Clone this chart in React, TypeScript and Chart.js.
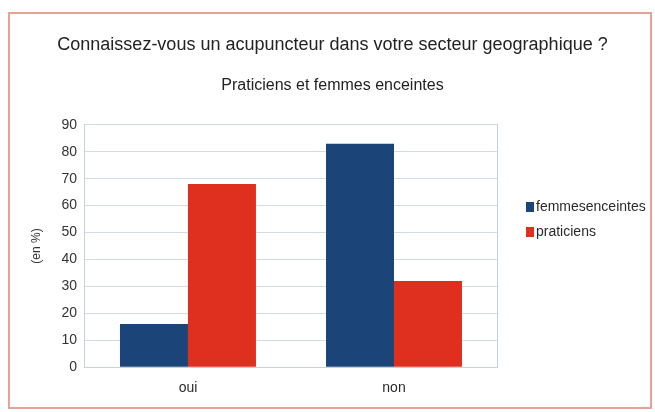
import React, { useEffect, useRef } from "react";
import { Chart, registerables } from "chart.js";

Chart.register(...registerables);

const categories = ["oui", "non"];
const femmesEnceintes = [16, 83];
const praticiens = [68, 32];
const seriesNames = ["femmesenceintes", "praticiens"];
const seriesColors = ["#1b4479", "#df301f"];
const titleText = "Connaissez-vous un acupuncteur dans votre secteur geographique ?";
const subtitleText = "Praticiens et femmes enceintes";
const yAxisTitle = "(en %)";

const FONT = "Liberation Sans";

const framePlugin = {
  id: "frame",
  beforeDraw(chart: any) {
    const ctx = chart.ctx;
    ctx.save();
    ctx.fillStyle = "#ffffff";
    ctx.fillRect(0, 0, chart.width, chart.height);
    ctx.strokeStyle = "#e7a196";
    ctx.lineWidth = 2;
    ctx.strokeRect(9, 13, chart.width - 13, chart.height - 17);
    ctx.restore();
  },
};

const sideLegendPlugin = {
  id: "sideLegend",
  afterDraw(chart: any) {
    const ctx = chart.ctx;
    const area = chart.chartArea;
    const x0 = area.right + 29;
    const mid = (area.top + area.bottom) / 2;
    const rowH = 25;
    const startY = mid - 39;
    ctx.save();
    ctx.font = `14px "${FONT}"`;
    ctx.textBaseline = "middle";
    ctx.textAlign = "left";
    chart.data.datasets.forEach((ds: any, i: number) => {
      const y = startY + i * rowH;
      ctx.fillStyle = ds.backgroundColor;
      ctx.fillRect(x0, y - 5, 8, 10);
      ctx.fillStyle = "#2a2a2a";
      ctx.fillText(ds.label, x0 + 10, y);
    });
    ctx.restore();
  },
};

export default function App() {
  const ref = useRef<HTMLCanvasElement>(null);
  useEffect(() => {
    const chart = new Chart(ref.current!, {
      type: "bar",
      data: {
        labels: categories,
        datasets: [
          { label: seriesNames[0], data: femmesEnceintes, backgroundColor: seriesColors[0] },
          { label: seriesNames[1], data: praticiens, backgroundColor: seriesColors[1] },
        ],
      },
      options: {
        animation: false,
        responsive: false,
        layout: { padding: { top: 34, left: 29, right: 19, bottom: 2 } },
        datasets: { bar: { barPercentage: 1, categoryPercentage: 0.66 } } as any,
        plugins: {
          title: {
            display: true,
            text: titleText,
            color: "#222",
            font: { family: FONT, size: 18, weight: "normal" },
            padding: { top: 0, bottom: 20 },
          },
          subtitle: {
            display: true,
            text: subtitleText,
            color: "#222",
            font: { family: FONT, size: 16, weight: "normal" },
            padding: { top: 0, bottom: 30 },
          },
          legend: { display: false },
          tooltip: { enabled: false },
        },
        scales: {
          x: {
            grid: { display: false, drawTicks: false },
            border: { color: "#c5d2de" },
            ticks: { color: "#2a2a2a", font: { family: FONT, size: 14 }, padding: 13 },
          },
          y: {
            min: 0,
            max: 90,
            ticks: { stepSize: 10, color: "#333", font: { family: FONT, size: 14 }, padding: 8 },
            grid: { color: "#d3dde8", drawTicks: false },
            border: { color: "#c5d2de" },
            title: {
              display: true,
              text: yAxisTitle,
              color: "#333",
              font: { family: FONT, size: 12 },
              padding: { top: 0, bottom: 10 },
            },
          },
          legendSpace: {
            type: "linear",
            position: "right",
            display: true,
            grid: { display: false, drawTicks: false },
            border: { display: true, color: "#c5d2de" },
            ticks: { display: false },
            afterFit: (scale: any) => {
              scale.width = 139;
            },
          } as any,
        },
      },
      plugins: [framePlugin, sideLegendPlugin],
    });
    return () => chart.destroy();
  }, []);
  return (
    <div style={{ position: "fixed", left: 0, top: 0, width: 655, height: 412 }}>
      <canvas ref={ref} width={655} height={412} style={{ display: "block" }} />
    </div>
  );
}
